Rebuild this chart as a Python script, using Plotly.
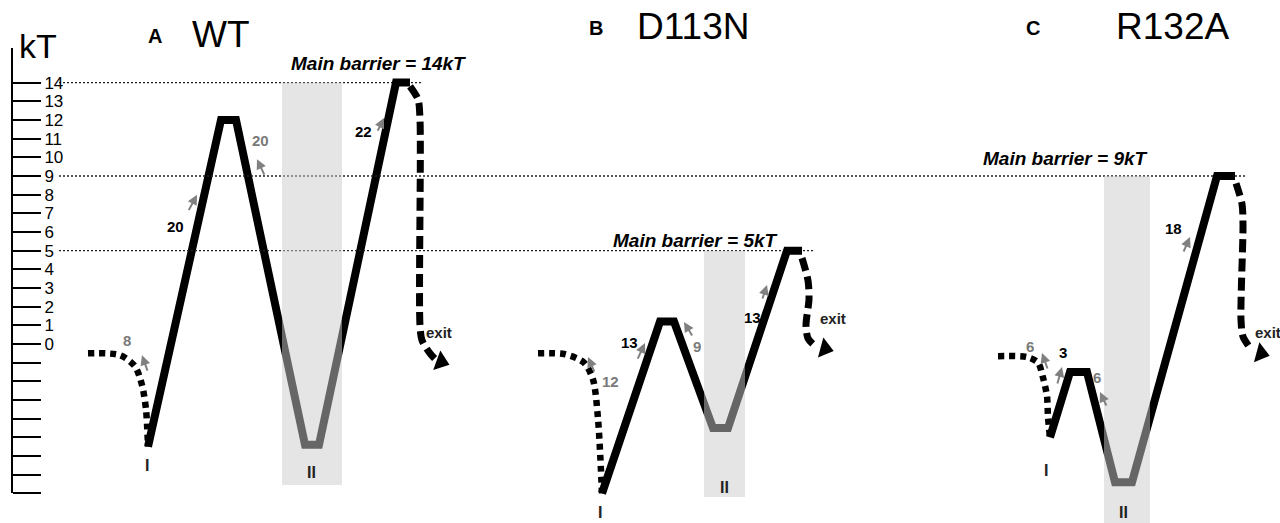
import plotly.graph_objects as go

FONT = "Liberation Sans, Arial, sans-serif"
W, H = 1280, 523

# drawing scale: screen rows per kT and where 0 kT sits
PX_PER_KT = 18.67
ZERO_ROW = 344.0
AXIS_TOP_ROW = 48.0
AXIS_COL = 11.0
X_SPAN = 128.0  # reaction-coordinate units across the whole figure

# ---------------- energy axis ----------------
kt_ticks = list(range(-8, 15))
kt_labels = [str(t) if t >= 0 else "" for t in kt_ticks]

# ---------------- panels ----------------
panel_letters = ["A", "B", "C"]
panel_names = ["WT", "D113N", "R132A"]

# WT
wt_entry_x = [8.8, 12.0, 13.5, 14.2, 14.6, 14.8]
wt_entry_kT = [-0.5, -0.6, -1.2, -2.2, -3.5, -5.5]
wt_path_x = [14.8, 22.1, 23.6, 30.5, 31.9, 39.6, 41.0]
wt_path_kT = [-5.5, 12, 12, -5.4, -5.4, 14, 14]
wt_exit_x = [41.0, 41.8, 42.0, 42.0, 42.2, 43.0, 43.6]
wt_exit_kT = [13.8, 13.1, 12.0, 1.0, 0.2, -0.5, -0.85]
wt_rates = ["8", "20", "20", "22"]

# D113N
d113n_entry_x = [53.8, 56.5, 58.4, 59.3, 59.8, 60.2]
d113n_entry_kT = [-0.5, -0.55, -1.0, -1.9, -4.0, -8.0]
d113n_path_x = [60.2, 66.0, 67.4, 71.3, 72.8, 78.7, 80.2]
d113n_path_kT = [-8.0, 1.2, 1.2, -4.5, -4.5, 5, 5]
d113n_exit_x = [80.2, 80.8, 80.9, 80.6, 80.8, 81.5]
d113n_exit_kT = [4.6, 3.4, 2.4, 1.0, 0.3, -0.1]
d113n_rates = ["12", "13", "9", "13"]

# R132A
r132a_entry_x = [99.8, 102.7, 103.8, 104.3, 104.7, 104.8, 105.0]
r132a_entry_kT = [-0.65, -0.7, -1.0, -1.8, -2.8, -3.9, -5.0]
r132a_path_x = [105.0, 107.0, 108.7, 111.5, 113.2, 121.7, 123.5]
r132a_path_kT = [-5.0, -1.5, -1.5, -7.4, -7.4, 9, 9]
r132a_exit_x = [123.6, 124.2, 124.3, 124.1, 124.3, 125.0]
r132a_exit_kT = [8.6, 7.5, 6.4, 1.3, 0.4, -0.2]
r132a_rates = ["6", "3", "6", "18"]

# forward (toward exit) rates are black, backward rates grey
rate_is_forward = [False, True, False, True]

panels = [
    dict(entry=(wt_entry_x, wt_entry_kT), path=(wt_path_x, wt_path_kT),
         exit=(wt_exit_x, wt_exit_kT), rates=wt_rates,
         rate_pos=[(12.7, 0.2), (17.5, 6.3), (26.0, 10.9), (36.3, 11.4)],
         arrow_head=[(14.2, -0.6), (19.7, 8.0), (25.7, 9.9), (38.4, 12.1)],
         arrow_tail=[(6, 17), (-9, 17), (8, 17), (-7, 14)],
         shade=(28.2, 34.2, -7.55), state_I=(14.7, -6.5), state_II=(31.1, -6.9),
         exit_tip=(44.1, -0.95, 20), exit_text=(42.4, 0.6),
         barrier_text=(37.8, 15.05), line_from=5.9,
         title=(15.5, 16.5, 22.1, 16.6)),
    dict(entry=(d113n_entry_x, d113n_entry_kT), path=(d113n_path_x, d113n_path_kT),
         exit=(d113n_exit_x, d113n_exit_kT), rates=d113n_rates,
         rate_pos=[(61.0, -2.0), (62.9, 0.1), (69.7, -0.16), (75.2, 1.4)],
         arrow_head=[(58.8, -0.7), (64.5, 0.05), (68.4, 1.18), (76.7, 3.16)],
         arrow_tail=[(7, 16), (-8, 17), (9, 15), (-5, 15)],
         shade=(70.4, 74.5, -8.2), state_I=(60.0, -9.05), state_II=(72.4, -7.66),
         exit_tip=(82.5, -0.25, 15), exit_text=(81.8, 1.35),
         barrier_text=(69.5, 5.57), line_from=5.9,
         title=(59.6, 16.93, 69.3, 17.03)),
    dict(entry=(r132a_entry_x, r132a_entry_kT), path=(r132a_path_x, r132a_path_kT),
         exit=(r132a_exit_x, r132a_exit_kT), rates=r132a_rates,
         rate_pos=[(103.0, -0.16), (106.3, -0.43), (109.7, -1.82), (117.3, 6.2)],
         arrow_head=[(104.2, -0.48), (106.2, -1.23), (110.0, -2.57), (119.0, 5.73)],
         arrow_tail=[(6, 17), (-5, 18), (7, 15), (-7, 16)],
         shade=(110.4, 115.0, -10.0), state_I=(104.6, -6.75), state_II=(112.3, -9.0),
         exit_tip=(126.1, -0.5, 15), exit_text=(125.3, 0.6),
         barrier_text=(106.5, 9.96), line_from=5.9,
         title=(103.3, 16.93, 117.2, 17.03)),
]

fig = go.Figure()
annotations = []
shapes = []

for i, p in enumerate(panels):
    px, pk = p["path"]
    barrier = max(pk)
    peak_end = px[-1]

    # dotted reference line at the main barrier height
    fig.add_trace(go.Scatter(
        x=[p["line_from"], peak_end + 1.2], y=[barrier, barrier], mode="lines",
        line=dict(color="#222", width=1.4, dash="2px,2px"), hoverinfo="skip"))

    # entry (dotted)
    ex, ek = p["entry"]
    fig.add_trace(go.Scatter(
        x=ex, y=ek, mode="lines",
        line=dict(color="#000", width=6.5, dash="6px,5px", shape="spline", smoothing=0.8),
        hoverinfo="skip"))

    # free-energy profile
    fig.add_trace(go.Scatter(
        x=px, y=pk, mode="lines", line=dict(color="#000", width=8),
        hoverinfo="skip"))

    # exit (dashed) with arrowhead
    xx, xk = p["exit"]
    fig.add_trace(go.Scatter(
        x=xx, y=xk, mode="lines",
        line=dict(color="#000", width=7, dash="13px,6px", shape="spline", smoothing=0.8),
        hoverinfo="skip"))
    tx, tk, ang = p["exit_tip"]
    fig.add_trace(go.Scatter(
        x=[tx], y=[tk], mode="markers",
        marker=dict(symbol="triangle-right", size=18, color="#000", angle=ang),
        hoverinfo="skip"))

    # shaded region around state II (translucent, sits above the profile)
    sx0, sx1, sbot = p["shade"]
    shapes.append(dict(type="rect", xref="x", yref="y", x0=sx0, x1=sx1,
                       y0=sbot, y1=barrier, fillcolor="rgb(204,204,204)",
                       opacity=0.5, line=dict(width=0), layer="above"))

    # rates with small arrows
    for lab, (lx, ly), (hx, hy), (dx, dy), fwd in zip(
            p["rates"], p["rate_pos"], p["arrow_head"], p["arrow_tail"], rate_is_forward):
        col = "#000" if fwd else "#7a7a7a"
        annotations.append(dict(x=lx, y=ly, xref="x", yref="y", text=f"<b>{lab}</b>",
                                showarrow=False, font=dict(family=FONT, size=15, color=col)))
        annotations.append(dict(x=hx, y=hy, xref="x", yref="y", text="", showarrow=True,
                                ax=dx, ay=dy, arrowhead=2, arrowsize=1, arrowwidth=2,
                                arrowcolor="#808080", standoff=0, startstandoff=0))

    # state labels
    for (sx, sy), txt in [(p["state_I"], "I"), (p["state_II"], "II")]:
        annotations.append(dict(x=sx, y=sy, xref="x", yref="y", text=f"<b>{txt}</b>",
                                showarrow=False, font=dict(family=FONT, size=16, color="#222")))

    # exit text
    etx, ety = p["exit_text"]
    annotations.append(dict(x=etx, y=ety, xref="x", yref="y", text="<b>exit</b>",
                            xanchor="left", showarrow=False,
                            font=dict(family=FONT, size=15, color="#222")))

    # main barrier label
    bx, by = p["barrier_text"]
    annotations.append(dict(x=bx, y=by, xref="x", yref="y",
                            text=f"<b><i>Main barrier = {barrier}kT</i></b>",
                            showarrow=False, font=dict(family=FONT, size=19, color="#000")))

    # panel title
    lx, ly, nx, ny = p["title"]
    annotations.append(dict(x=lx, y=ly, xref="x", yref="y", text=f"<b>{panel_letters[i]}</b>",
                            showarrow=False, font=dict(family=FONT, size=20, color="#000")))
    annotations.append(dict(x=nx, y=ny, xref="x", yref="y", text=panel_names[i],
                            showarrow=False, font=dict(family=FONT, size=37, color="#000")))

# axis name
annotations.append(dict(x=3.8, y=15.96, xref="x", yref="y", text="kT", showarrow=False,
                        font=dict(family=FONT, size=34, color="#000")))

# invisible trace so the energy-axis subplot is created
fig.add_trace(go.Scatter(x=[0], y=[0], xaxis="x2", yaxis="y2", mode="markers",
                         marker=dict(opacity=0), hoverinfo="skip"))

y_hi = ZERO_ROW / PX_PER_KT
y_lo = y_hi - H / PX_PER_KT
axis_bottom_row = ZERO_ROW + 8 * PX_PER_KT

fig.update_layout(
    width=W, height=H, margin=dict(l=0, r=0, t=0, b=0),
    paper_bgcolor="white", plot_bgcolor="rgba(0,0,0,0)",
    showlegend=False, hovermode=False,
    xaxis=dict(domain=[0, 1], range=[0, X_SPAN], visible=False, fixedrange=True),
    yaxis=dict(domain=[0, 1], range=[y_lo, y_hi], visible=False, fixedrange=True),
    # tiny helper subplot whose right edge carries the energy axis
    xaxis2=dict(domain=[0, AXIS_COL / W], range=[0, 1], visible=False, anchor="y2"),
    yaxis2=dict(
        domain=[1 - axis_bottom_row / H, 1 - AXIS_TOP_ROW / H],
        range=[-8, (ZERO_ROW - AXIS_TOP_ROW) / PX_PER_KT],
        anchor="x2", side="right", showline=True, linecolor="#000", linewidth=2,
        ticks="outside", ticklen=28, tickwidth=1.5, tickcolor="#000",
        tickvals=kt_ticks, ticktext=kt_labels,
        tickfont=dict(family=FONT, size=17, color="#000"),
        showgrid=False, zeroline=False),
    shapes=shapes, annotations=annotations,
)

fig.write_html("out.html")
